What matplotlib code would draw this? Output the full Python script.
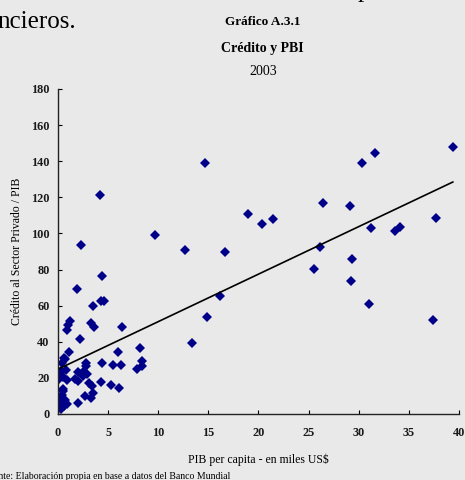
import numpy as np
import matplotlib
matplotlib.use("Agg")
from matplotlib import pyplot as plt

# PIB per capita (miles US$) y crédito al sector privado (% PIB), 2003
pib = [39.4, 31.6, 30.3, 14.7, 4.2, 26.4, 29.1, 19.0, 37.7, 21.5,
       20.4, 34.1, 31.2, 33.6, 9.7, 2.3, 26.1, 12.7, 16.7, 29.3,
       25.5, 4.4, 29.2, 1.9, 16.2, 4.3, 4.6, 31.0, 3.5, 14.9,
       37.4, 1.2, 3.3, 1.0, 0.9, 3.6, 6.4, 2.2, 13.4, 8.2,
       1.1, 6.0, 0.7, 0.4, 2.8, 2.8, 4.4, 5.5, 6.3, 8.4,
       8.4, 7.9, 0.3, 0.8, 2.0, 2.5, 0.1, 0.5, 0.9, 1.7,
       2.0, 2.5, 2.9, 3.1, 3.4, 4.3, 5.3, 6.1, 0.5, 0.5,
       2.7, 3.5, 3.3, 2.0, 0.2, 0.5, 0.1, 0.6, 0.3, 0.9,
       0.4, 0.7, 0.2, 0.6]
credito = [148.0, 144.4, 139.0, 138.8, 121.4, 117.0, 115.3, 110.8, 108.7, 107.8,
           105.4, 103.5, 102.8, 101.3, 99.1, 93.7, 92.5, 90.8, 89.5, 85.8,
           80.3, 76.2, 73.5, 69.2, 65.5, 62.6, 62.6, 60.7, 59.8, 53.5,
           51.9, 51.7, 50.2, 49.5, 46.5, 48.3, 48.3, 41.7, 39.1, 36.7,
           34.5, 34.5, 30.3, 28.4, 28.0, 26.8, 28.4, 27.0, 27.3, 29.2,
           26.6, 25.0, 24.0, 24.5, 23.4, 23.4, 19.2, 20.3, 18.8, 19.5,
           18.4, 21.0, 22.1, 17.0, 15.5, 17.7, 15.9, 14.4, 14.0, 12.6,
           10.0, 11.5, 8.7, 5.9, 9.0, 7.0, 5.0, 4.5, 3.0, 5.5,
           10.5, 8.0, 22.0, 31.0]

xticks = [0, 5, 10, 15, 20, 25, 30, 35, 40]
yticks = [0, 20, 40, 60, 80, 100, 120, 140, 160, 180]

bg = "#e9e9e9"
plt.rcParams["font.family"] = ["Liberation Serif", "DejaVu Serif"]

fig = plt.figure(figsize=(4.65, 4.8), dpi=100, facecolor=bg)
ax = fig.add_axes([0.1247, 0.1375, 0.862, 0.6771], facecolor=bg)

ax.plot(pib, credito, linestyle="none", marker="D", markersize=4.8,
        color="#000088", markeredgewidth=0)

# recta de tendencia (mínimos cuadrados)
pendiente, ordenada = np.polyfit(pib, credito, 1)
xs = np.array([0, max(pib)])
ax.plot(xs, ordenada + pendiente * xs, color="black", linewidth=1.2)

ax.set_xlim(0, 40)
ax.set_ylim(0, 180)
ax.set_xticks(xticks)
ax.set_yticks(yticks)
for s in ["top", "right"]:
    ax.spines[s].set_visible(False)
for s in ["left", "bottom"]:
    ax.spines[s].set_color("#222222")
    ax.spines[s].set_linewidth(1.0)
ax.tick_params(direction="in", length=3, width=0.8, labelsize=8.8, pad=6,
               labelcolor="#1a1a1a")
for lab in ax.get_xticklabels() + ax.get_yticklabels():
    lab.set_fontweight("bold")
ax.tick_params(axis="x", pad=9)

ax.set_xlabel("PIB per capita - en miles US$", fontsize=8.5, labelpad=11)
ax.set_ylabel("Crédito al Sector Privado / PIB", fontsize=8.5, labelpad=6)

fig.text(0.565, 0.955, "Gráfico A.3.1", ha="center", va="center",
         fontsize=9.5, fontweight="bold")
fig.text(0.565, 0.898, "Crédito y PBI", ha="center", va="center",
         fontsize=10, fontweight="bold")
fig.text(0.565, 0.852, "2003", ha="center", va="center", fontsize=10)
fig.text(-0.005, 0.955, "ncieros.", ha="left", va="center", fontsize=18)
fig.text(0.77, 1.018, "p", ha="left", va="center", fontsize=18)
fig.text(-0.012, -0.003, "ente: Elaboración propia en base a datos del Banco Mundial",
         ha="left", va="bottom", fontsize=7)

fig.savefig("out.png", dpi=100, facecolor=bg)
